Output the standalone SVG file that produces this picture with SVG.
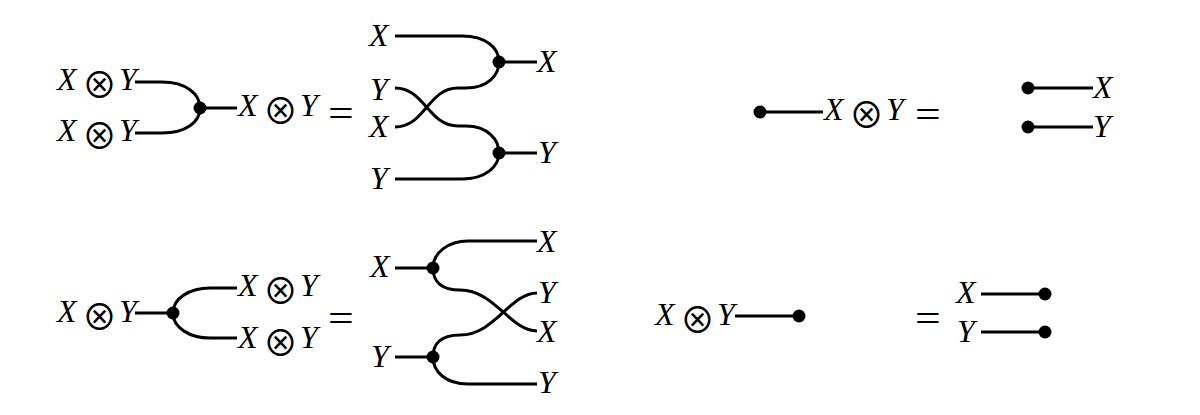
<svg xmlns="http://www.w3.org/2000/svg" width="1200" height="415" viewBox="0 0 1200 415">
<style>
.w{fill:none;stroke:#000;stroke-width:3;stroke-linecap:butt}
.d{fill:#000}
.t{font-family:"Liberation Serif","Times New Roman",serif;font-style:italic;font-size:32px;fill:#000}
.o{font-family:"Noto Sans CJK JP","DejaVu Sans",sans-serif;font-style:normal;font-weight:400;font-size:35px}
.s{font-size:8px}
.eq{font-family:"Liberation Serif","Times New Roman",serif;font-style:normal;font-size:38px;fill:#000}
</style>
<rect width="1200" height="415" fill="#fff"/>
<g id="connectors">
<path class="w" d="M135,82 H162 C186,82 200,94 200,108"/>
<path class="w" d="M135,133 H162 C186,133 200,122 200,108"/>
<path class="w" d="M200,108 H237"/>
<path class="w" d="M395,36 H462 C486,36 499,48 499,62"/>
<path class="w" d="M499,62 H537"/>
<path class="w" d="M395,88 C425,88 428,126 458,126 H466 C488,126 499,140 499,153"/>
<path class="w" d="M395,127 C425,127 428,88 458,88 H466 C488,88 499,75 499,62"/>
<path class="w" d="M395,179 H462 C486,179 499,166 499,153"/>
<path class="w" d="M499,153 H537"/>
<path class="w" d="M760,112 H823"/>
<path class="w" d="M1028,88 H1093"/>
<path class="w" d="M1028,127 H1093"/>
<path class="w" d="M135,313 H173"/>
<path class="w" d="M173,313 C173,298 190,288 210,288 H237"/>
<path class="w" d="M173,313 C173,328 190,338 210,338 H237"/>
<path class="w" d="M395,268 H433"/>
<path class="w" d="M433,268 C433,253 448,241 468,241 H537"/>
<path class="w" d="M433,268 C433,282 442,290 460,290 C495,290 510,331 537,331"/>
<path class="w" d="M395,357 H433"/>
<path class="w" d="M433,357 C433,371 445,384 468,384 H537"/>
<path class="w" d="M433,357 C433,343 442,335 460,335 C495,335 510,293 537,293"/>
<path class="w" d="M735,316 H799"/>
<path class="w" d="M981,294 H1045"/>
<path class="w" d="M981,332 H1045"/>
</g>
<g id="p1-in1" transform="translate(57,90)"><text class="t">X<tspan class="s"> </tspan><tspan class="o" x="25" y="8">⊗</tspan><tspan class="s"> </tspan><tspan x="62" y="0">Y</tspan></text></g>
<g id="p1-in2" transform="translate(57,141)"><text class="t">X<tspan class="s"> </tspan><tspan class="o" x="25" y="8">⊗</tspan><tspan class="s"> </tspan><tspan x="62" y="0">Y</tspan></text></g>
<g id="p1-mult"><circle class="d" cx="200" cy="108" r="6.5"/></g>
<g id="p1-out" transform="translate(238,116)"><text class="t">X<tspan class="s"> </tspan><tspan class="o" x="25" y="8">⊗</tspan><tspan class="s"> </tspan><tspan x="62" y="0">Y</tspan></text></g>
<g id="p1-eq"><text class="eq" transform="translate(328,126) scale(1.2,1)">=</text></g>
<g id="p2-x1"><text class="t" x="369" y="46">X</text></g>
<g id="p2-y1"><text class="t" x="370" y="100">Y</text></g>
<g id="p2-x2"><text class="t" x="369" y="137">X</text></g>
<g id="p2-y2"><text class="t" x="370" y="189">Y</text></g>
<g id="p2-multx"><circle class="d" cx="499" cy="62" r="6.5"/></g>
<g id="p2-multy"><circle class="d" cx="499" cy="153" r="6.5"/></g>
<g id="p2-xo"><text class="t" x="537" y="72">X</text></g>
<g id="p2-yo"><text class="t" x="538" y="163">Y</text></g>
<g id="p3-unit"><circle class="d" cx="760" cy="112" r="6.5"/></g>
<g id="p3-out" transform="translate(824,120)"><text class="t">X<tspan class="s"> </tspan><tspan class="o" x="25" y="8">⊗</tspan><tspan class="s"> </tspan><tspan x="62" y="0">Y</tspan></text></g>
<g id="p3-eq"><text class="eq" transform="translate(915,126.5) scale(1.2,1)">=</text></g>
<g id="p3-unitx"><circle class="d" cx="1028" cy="88" r="6.5"/></g>
<g id="p3-unity"><circle class="d" cx="1028" cy="127" r="6.5"/></g>
<g id="p3-xo"><text class="t" x="1093" y="98">X</text></g>
<g id="p3-yo"><text class="t" x="1093" y="137">Y</text></g>
<g id="p4-in" transform="translate(57,322)"><text class="t">X<tspan class="s"> </tspan><tspan class="o" x="25" y="8">⊗</tspan><tspan class="s"> </tspan><tspan x="62" y="0">Y</tspan></text></g>
<g id="p4-comult"><circle class="d" cx="173" cy="313" r="6.5"/></g>
<g id="p4-out1" transform="translate(238,296)"><text class="t">X<tspan class="s"> </tspan><tspan class="o" x="25" y="8">⊗</tspan><tspan class="s"> </tspan><tspan x="62" y="0">Y</tspan></text></g>
<g id="p4-out2" transform="translate(238,348)"><text class="t">X<tspan class="s"> </tspan><tspan class="o" x="25" y="8">⊗</tspan><tspan class="s"> </tspan><tspan x="62" y="0">Y</tspan></text></g>
<g id="p4-eq"><text class="eq" transform="translate(328,331) scale(1.2,1)">=</text></g>
<g id="p5-x"><text class="t" x="370" y="277">X</text></g>
<g id="p5-y"><text class="t" x="371" y="367">Y</text></g>
<g id="p5-comultx"><circle class="d" cx="433" cy="268" r="6.5"/></g>
<g id="p5-comulty"><circle class="d" cx="433" cy="357" r="6.5"/></g>
<g id="p5-x1"><text class="t" x="537" y="252">X</text></g>
<g id="p5-y1"><text class="t" x="538" y="303">Y</text></g>
<g id="p5-x2"><text class="t" x="537" y="342">X</text></g>
<g id="p5-y2"><text class="t" x="538" y="393">Y</text></g>
<g id="p6-in" transform="translate(655,325)"><text class="t">X<tspan class="s"> </tspan><tspan class="o" x="25" y="8">⊗</tspan><tspan class="s"> </tspan><tspan x="62" y="0">Y</tspan></text></g>
<g id="p6-counit"><circle class="d" cx="799" cy="316" r="6.5"/></g>
<g id="p6-eq"><text class="eq" transform="translate(915,331) scale(1.2,1)">=</text></g>
<g id="p6-x"><text class="t" x="956" y="303">X</text></g>
<g id="p6-y"><text class="t" x="957" y="342">Y</text></g>
<g id="p6-counitx"><circle class="d" cx="1045" cy="294" r="6.5"/></g>
<g id="p6-counity"><circle class="d" cx="1045" cy="332" r="6.5"/></g>
</svg>
